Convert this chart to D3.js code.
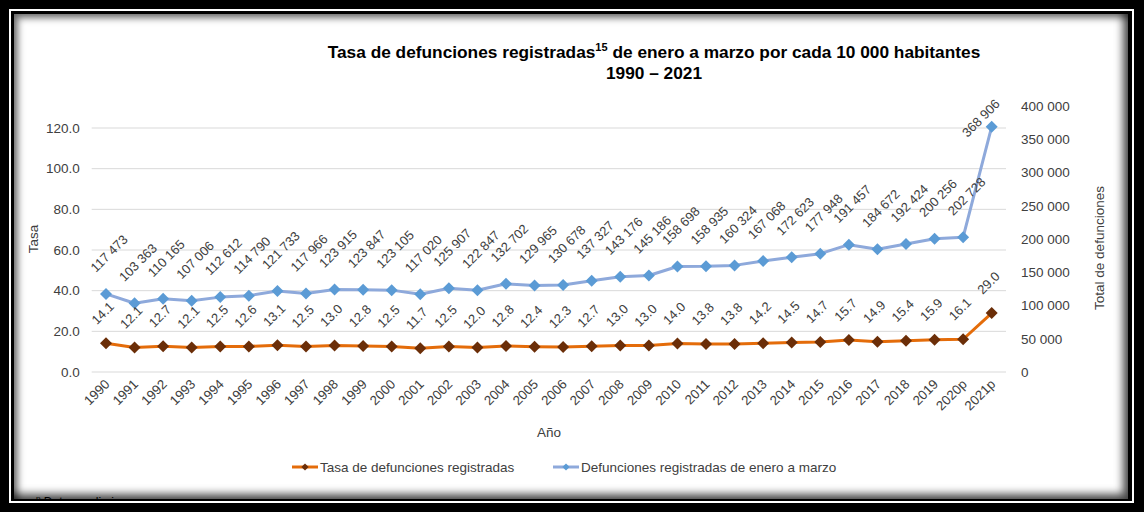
<!DOCTYPE html>
<html><head><meta charset="utf-8">
<script src="https://cdn.jsdelivr.net/npm/d3@7/dist/d3.min.js"></script>
<style>
html,body{margin:0;padding:0;background:#000;width:1144px;height:512px;overflow:hidden;font-family:"Liberation Sans",Arial,sans-serif;}
#line{position:absolute;left:9px;top:9px;width:1121px;height:490px;border:2px solid #fff;}
#panel{position:absolute;left:14px;top:14px;width:1114px;height:485px;background:#fff;
 box-shadow: inset 4px 4px 7px rgba(0,0,0,0.55), inset -5px -5px 9px rgba(0,0,0,0.7);}
svg{position:absolute;left:0;top:0;}
</style></head>
<body>
<div id="line"></div>
<div id="panel"></div>
<svg id="chart" width="1144" height="512"></svg>
<script>
const years = ["1990","1991","1992","1993","1994","1995","1996","1997","1998","1999","2000","2001","2002","2003","2004","2005","2006","2007","2008","2009","2010","2011","2012","2013","2014","2015","2016","2017","2018","2019","2020p","2021p"];
const tasa = [14.1,12.1,12.7,12.1,12.5,12.6,13.1,12.5,13.0,12.8,12.5,11.7,12.5,12.0,12.8,12.4,12.3,12.7,13.0,13.0,14.0,13.8,13.8,14.2,14.5,14.7,15.7,14.9,15.4,15.9,16.1,29.0];
const defunciones = [117473,103363,110165,107006,112612,114790,121733,117966,123915,123847,123105,117020,125907,122847,132702,129965,130678,137327,143176,145186,158698,158935,160324,167068,172623,177948,191457,184672,192424,200256,202728,368906];
const leftTicks = [0,20,40,60,80,100,120];
const rightTicks = [0,50000,100000,150000,200000,250000,300000,350000,400000];
const seriesNames = ["Tasa de defunciones registradas","Defunciones registradas de enero a marzo"];

const svg = d3.select("#chart");
const FONT = '"Liberation Sans", Arial, sans-serif';
const textCol = "#404040";
const orangeLine = "#E46C0A", orangeMark = "#6B2E08";
const blueLine = "#8EA9DB", blueMark = "#5B9BD5";

const x = d3.scalePoint().domain(years).range([91.7, 1006]).padding(0.5);
const yL = d3.scaleLinear().domain([0,120]).range([372,128]);
const yR = d3.scaleLinear().domain([0,400000]).range([372,106]);
const sp = v => d3.format(",")(v).replace(/,/g," ");

svg.append("clipPath").attr("id","pc").append("rect").attr("x",14).attr("y",14).attr("width",1114).attr("height",485);
const g = svg.append("g").attr("clip-path","url(#pc)").style("font-family",FONT);

// title
const t = g.append("text").attr("x",654).attr("y",58).attr("text-anchor","middle")
  .style("font-size","17.3px").style("font-weight","bold").attr("fill","#000");
t.append("tspan").text("Tasa de defunciones registradas");
t.append("tspan").text("15").style("font-size","11px").attr("dy",-7);
t.append("tspan").text(" de enero a marzo por cada 10 000 habitantes").attr("dy",7);
g.append("text").attr("x",654).attr("y",79).attr("text-anchor","middle")
  .style("font-size","17.3px").style("font-weight","bold").text("1990 – 2021");

// gridlines
g.append("g").selectAll("line").data(leftTicks).join("line")
  .attr("x1",x.range()[0]).attr("x2",x.range()[1])
  .attr("y1",d=>yL(d)).attr("y2",d=>yL(d))
  .attr("stroke","#D9D9D9").attr("stroke-width",1);

// left axis
const ax = g.append("g").attr("transform",`translate(${x.range()[0]},0)`)
  .call(d3.axisLeft(yL).tickValues(leftTicks).tickFormat(d3.format(".1f")).tickSize(0).tickPadding(12));
ax.select(".domain").remove();
ax.selectAll("text").style("font-size","13.5px").style("font-family",FONT).attr("fill",textCol);

// right axis
const axr = g.append("g").attr("transform",`translate(${x.range()[1]},0)`)
  .call(d3.axisRight(yR).tickValues(rightTicks).tickFormat(sp).tickSize(0).tickPadding(15));
axr.select(".domain").remove();
axr.selectAll("text").style("font-size","13.5px").style("font-family",FONT).attr("fill",textCol);

// x axis
const axb = g.append("g").attr("transform","translate(0,372)")
  .call(d3.axisBottom(x).tickSize(0));
axb.select(".domain").remove();
axb.selectAll("text").style("font-size","13.3px").style("font-family",FONT).attr("fill",textCol)
  .attr("text-anchor","end").attr("x",4).attr("y",13).attr("dy",0).attr("transform","rotate(-45,4,13)");

// axis titles
g.append("text").attr("transform","translate(38,239) rotate(-90)").attr("text-anchor","middle")
  .style("font-size","13.5px").attr("fill",textCol).text("Tasa");
g.append("text").attr("transform","translate(1104,248) rotate(-90)").attr("text-anchor","middle")
  .style("font-size","13.5px").attr("fill",textCol).text("Total de defunciones");
g.append("text").attr("x",549).attr("y",437).attr("text-anchor","middle")
  .style("font-size","13.5px").attr("fill",textCol).text("Año");

const diamond = (sel, size, fill) => sel.append("path")
  .attr("d", d3.symbol(d3.symbolSquare, size)()).attr("fill", fill);

// series lines
const lineB = d3.line().x((d,i)=>x(years[i])).y(d=>yR(d));
g.append("path").datum(defunciones).attr("d",lineB).attr("fill","none").attr("stroke",blueLine).attr("stroke-width",3).attr("stroke-linejoin","round");
const lineO = d3.line().x((d,i)=>x(years[i])).y(d=>yL(d));
g.append("path").datum(tasa).attr("d",lineO).attr("fill","none").attr("stroke",orangeLine).attr("stroke-width",3).attr("stroke-linejoin","round");

g.append("g").selectAll("g").data(defunciones).join("g")
  .attr("transform",(d,i)=>`translate(${x(years[i])},${yR(d)}) rotate(45)`)
  .each(function(){ diamond(d3.select(this), 72, blueMark); });
g.append("g").selectAll("g").data(tasa).join("g")
  .attr("transform",(d,i)=>`translate(${x(years[i])},${yL(d)}) rotate(45)`)
  .each(function(){ diamond(d3.select(this), 72, orangeMark); });

// data labels
const last = years.length-1;
g.append("g").selectAll("text").data(defunciones).join("text")
  .attr("transform",(d,i)=> i===last
      ? `translate(${x(years[i])+9},${yR(d)-22}) rotate(-45)`
      : `translate(${x(years[i])-10},${yR(d)-21}) rotate(-45)`)
  .attr("text-anchor",(d,i)=> i===last ? "end" : "start")
  .style("font-size","13px").attr("fill",textCol).text(sp);
g.append("g").selectAll("text").data(tasa).join("text")
  .attr("transform",(d,i)=>`translate(${x(years[i])-9},${yL(d)-18}) rotate(-45)`)
  .attr("text-anchor","start")
  .style("font-size","13px").attr("fill",textCol).text(d3.format(".1f"));

// legend
const leg = [{x:292, c:orangeLine, m:orangeMark, name:seriesNames[0]},{x:553, c:blueLine, m:blueMark, name:seriesNames[1]}];
const lg = g.append("g").selectAll("g").data(leg).join("g").attr("transform",d=>`translate(${d.x},467)`);
lg.append("line").attr("x1",0).attr("x2",26).attr("stroke",d=>d.c).attr("stroke-width",3);
lg.append("path").attr("transform","translate(13,0) rotate(45)").attr("d",d3.symbol(d3.symbolSquare,26)()).attr("fill",d=>d.m);
lg.append("text").attr("x",28).attr("y",0).attr("dy","0.35em").style("font-size","13.5px").attr("fill",textCol).text(d=>d.name);

// footnote (cut off by panel edge)
const fn = g.append("text").attr("x",36).attr("y",506).style("font-size","12px").attr("fill","#000");
fn.append("tspan").text("p").style("font-size","8px").attr("dy",-5);
fn.append("tspan").text(" Datos preliminares.").attr("dy",5);
</script>
</body></html>
